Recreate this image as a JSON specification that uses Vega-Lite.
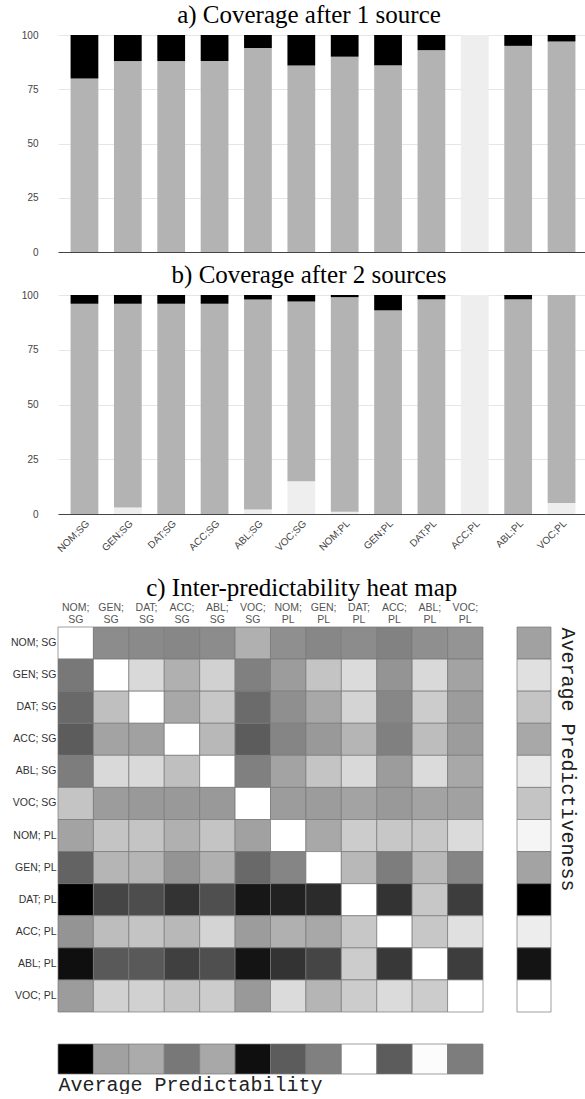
{
  "$schema": "https://vega.github.io/schema/vega-lite/v6.json",
  "background": "white",
  "padding": {"left": 10, "top": 3, "right": 0, "bottom": 0},
  "spacing": 6,
  "config": {
    "view": {"stroke": null},
    "axis": {"labelFont": "Liberation Sans", "labelColor": "#444", "labelFontSize": 10},
    "title": {"font": "Liberation Serif", "fontSize": 25, "fontWeight": "normal", "color": "#000"}
  },
  "resolve": {"scale": {"color": "independent", "x": "independent", "y": "independent"}},
  "datasets": {
    "coverage1": [
      {"case": "NOM;SG", "status": "covered", "pct": 80}, {"case": "NOM;SG", "status": "uncovered", "pct": 20},
      {"case": "GEN;SG", "status": "covered", "pct": 88}, {"case": "GEN;SG", "status": "uncovered", "pct": 12},
      {"case": "DAT;SG", "status": "covered", "pct": 88}, {"case": "DAT;SG", "status": "uncovered", "pct": 12},
      {"case": "ACC;SG", "status": "covered", "pct": 88}, {"case": "ACC;SG", "status": "uncovered", "pct": 12},
      {"case": "ABL;SG", "status": "covered", "pct": 94}, {"case": "ABL;SG", "status": "uncovered", "pct": 6},
      {"case": "VOC;SG", "status": "covered", "pct": 86}, {"case": "VOC;SG", "status": "uncovered", "pct": 14},
      {"case": "NOM;PL", "status": "covered", "pct": 90}, {"case": "NOM;PL", "status": "uncovered", "pct": 10},
      {"case": "GEN;PL", "status": "covered", "pct": 86}, {"case": "GEN;PL", "status": "uncovered", "pct": 14},
      {"case": "DAT;PL", "status": "covered", "pct": 93}, {"case": "DAT;PL", "status": "uncovered", "pct": 7},
      {"case": "ACC;PL", "status": "absent", "pct": 100},
      {"case": "ABL;PL", "status": "covered", "pct": 95}, {"case": "ABL;PL", "status": "uncovered", "pct": 5},
      {"case": "VOC;PL", "status": "covered", "pct": 97}, {"case": "VOC;PL", "status": "uncovered", "pct": 3}
    ],
    "coverage2": [
      {"case": "NOM;SG", "status": "covered", "pct": 96}, {"case": "NOM;SG", "status": "uncovered", "pct": 4},
      {"case": "GEN;SG", "status": "absent", "pct": 3}, {"case": "GEN;SG", "status": "covered", "pct": 93}, {"case": "GEN;SG", "status": "uncovered", "pct": 4},
      {"case": "DAT;SG", "status": "covered", "pct": 96}, {"case": "DAT;SG", "status": "uncovered", "pct": 4},
      {"case": "ACC;SG", "status": "covered", "pct": 96}, {"case": "ACC;SG", "status": "uncovered", "pct": 4},
      {"case": "ABL;SG", "status": "absent", "pct": 2}, {"case": "ABL;SG", "status": "covered", "pct": 96}, {"case": "ABL;SG", "status": "uncovered", "pct": 2},
      {"case": "VOC;SG", "status": "absent", "pct": 15}, {"case": "VOC;SG", "status": "covered", "pct": 82}, {"case": "VOC;SG", "status": "uncovered", "pct": 3},
      {"case": "NOM;PL", "status": "absent", "pct": 1}, {"case": "NOM;PL", "status": "covered", "pct": 98}, {"case": "NOM;PL", "status": "uncovered", "pct": 1},
      {"case": "GEN;PL", "status": "covered", "pct": 93}, {"case": "GEN;PL", "status": "uncovered", "pct": 7},
      {"case": "DAT;PL", "status": "covered", "pct": 98}, {"case": "DAT;PL", "status": "uncovered", "pct": 2},
      {"case": "ACC;PL", "status": "absent", "pct": 100},
      {"case": "ABL;PL", "status": "covered", "pct": 98}, {"case": "ABL;PL", "status": "uncovered", "pct": 2},
      {"case": "VOC;PL", "status": "absent", "pct": 5}, {"case": "VOC;PL", "status": "covered", "pct": 95}
    ],
    "heat": [
      {"row": "NOM; SG", "col": "NOM; SG", "score": 0}, {"row": "NOM; SG", "col": "GEN; SG", "score": 0.45}, {"row": "NOM; SG", "col": "DAT; SG", "score": 0.46}, {"row": "NOM; SG", "col": "ACC; SG", "score": 0.47}, {"row": "NOM; SG", "col": "ABL; SG", "score": 0.45}, {"row": "NOM; SG", "col": "VOC; SG", "score": 0.31}, {"row": "NOM; SG", "col": "NOM; PL", "score": 0.44}, {"row": "NOM; SG", "col": "GEN; PL", "score": 0.47}, {"row": "NOM; SG", "col": "DAT; PL", "score": 0.45}, {"row": "NOM; SG", "col": "ACC; PL", "score": 0.49}, {"row": "NOM; SG", "col": "ABL; PL", "score": 0.44}, {"row": "NOM; SG", "col": "VOC; PL", "score": 0.42},
      {"row": "GEN; SG", "col": "NOM; SG", "score": 0.53}, {"row": "GEN; SG", "col": "GEN; SG", "score": 0}, {"row": "GEN; SG", "col": "DAT; SG", "score": 0.15}, {"row": "GEN; SG", "col": "ACC; SG", "score": 0.31}, {"row": "GEN; SG", "col": "ABL; SG", "score": 0.18}, {"row": "GEN; SG", "col": "VOC; SG", "score": 0.50}, {"row": "GEN; SG", "col": "NOM; PL", "score": 0.39}, {"row": "GEN; SG", "col": "GEN; PL", "score": 0.23}, {"row": "GEN; SG", "col": "DAT; PL", "score": 0.14}, {"row": "GEN; SG", "col": "ACC; PL", "score": 0.42}, {"row": "GEN; SG", "col": "ABL; PL", "score": 0.15}, {"row": "GEN; SG", "col": "VOC; PL", "score": 0.36},
      {"row": "DAT; SG", "col": "NOM; SG", "score": 0.59}, {"row": "DAT; SG", "col": "GEN; SG", "score": 0.25}, {"row": "DAT; SG", "col": "DAT; SG", "score": 0}, {"row": "DAT; SG", "col": "ACC; SG", "score": 0.34}, {"row": "DAT; SG", "col": "ABL; SG", "score": 0.22}, {"row": "DAT; SG", "col": "VOC; SG", "score": 0.58}, {"row": "DAT; SG", "col": "NOM; PL", "score": 0.44}, {"row": "DAT; SG", "col": "GEN; PL", "score": 0.34}, {"row": "DAT; SG", "col": "DAT; PL", "score": 0.17}, {"row": "DAT; SG", "col": "ACC; PL", "score": 0.47}, {"row": "DAT; SG", "col": "ABL; PL", "score": 0.20}, {"row": "DAT; SG", "col": "VOC; PL", "score": 0.39},
      {"row": "ACC; SG", "col": "NOM; SG", "score": 0.64}, {"row": "ACC; SG", "col": "GEN; SG", "score": 0.36}, {"row": "ACC; SG", "col": "DAT; SG", "score": 0.37}, {"row": "ACC; SG", "col": "ACC; SG", "score": 0}, {"row": "ACC; SG", "col": "ABL; SG", "score": 0.28}, {"row": "ACC; SG", "col": "VOC; SG", "score": 0.64}, {"row": "ACC; SG", "col": "NOM; PL", "score": 0.48}, {"row": "ACC; SG", "col": "GEN; PL", "score": 0.40}, {"row": "ACC; SG", "col": "DAT; PL", "score": 0.29}, {"row": "ACC; SG", "col": "ACC; PL", "score": 0.50}, {"row": "ACC; SG", "col": "ABL; PL", "score": 0.26}, {"row": "ACC; SG", "col": "VOC; PL", "score": 0.39},
      {"row": "ABL; SG", "col": "NOM; SG", "score": 0.51}, {"row": "ABL; SG", "col": "GEN; SG", "score": 0.15}, {"row": "ABL; SG", "col": "DAT; SG", "score": 0.15}, {"row": "ABL; SG", "col": "ACC; SG", "score": 0.25}, {"row": "ABL; SG", "col": "ABL; SG", "score": 0}, {"row": "ABL; SG", "col": "VOC; SG", "score": 0.50}, {"row": "ABL; SG", "col": "NOM; PL", "score": 0.36}, {"row": "ABL; SG", "col": "GEN; PL", "score": 0.23}, {"row": "ABL; SG", "col": "DAT; PL", "score": 0.15}, {"row": "ABL; SG", "col": "ACC; PL", "score": 0.39}, {"row": "ABL; SG", "col": "ABL; PL", "score": 0.14}, {"row": "ABL; SG", "col": "VOC; PL", "score": 0.34},
      {"row": "VOC; SG", "col": "NOM; SG", "score": 0.23}, {"row": "VOC; SG", "col": "GEN; SG", "score": 0.39}, {"row": "VOC; SG", "col": "DAT; SG", "score": 0.40}, {"row": "VOC; SG", "col": "ACC; SG", "score": 0.40}, {"row": "VOC; SG", "col": "ABL; SG", "score": 0.40}, {"row": "VOC; SG", "col": "VOC; SG", "score": 0}, {"row": "VOC; SG", "col": "NOM; PL", "score": 0.39}, {"row": "VOC; SG", "col": "GEN; PL", "score": 0.39}, {"row": "VOC; SG", "col": "DAT; PL", "score": 0.36}, {"row": "VOC; SG", "col": "ACC; PL", "score": 0.40}, {"row": "VOC; SG", "col": "ABL; PL", "score": 0.36}, {"row": "VOC; SG", "col": "VOC; PL", "score": 0.37},
      {"row": "NOM; PL", "col": "NOM; SG", "score": 0.36}, {"row": "NOM; PL", "col": "GEN; SG", "score": 0.23}, {"row": "NOM; PL", "col": "DAT; SG", "score": 0.23}, {"row": "NOM; PL", "col": "ACC; SG", "score": 0.31}, {"row": "NOM; PL", "col": "ABL; SG", "score": 0.23}, {"row": "NOM; PL", "col": "VOC; SG", "score": 0.37}, {"row": "NOM; PL", "col": "NOM; PL", "score": 0}, {"row": "NOM; PL", "col": "GEN; PL", "score": 0.34}, {"row": "NOM; PL", "col": "DAT; PL", "score": 0.20}, {"row": "NOM; PL", "col": "ACC; PL", "score": 0.22}, {"row": "NOM; PL", "col": "ABL; PL", "score": 0.22}, {"row": "NOM; PL", "col": "VOC; PL", "score": 0.14},
      {"row": "GEN; PL", "col": "NOM; SG", "score": 0.61}, {"row": "GEN; PL", "col": "GEN; SG", "score": 0.29}, {"row": "GEN; PL", "col": "DAT; SG", "score": 0.29}, {"row": "GEN; PL", "col": "ACC; SG", "score": 0.42}, {"row": "GEN; PL", "col": "ABL; SG", "score": 0.31}, {"row": "GEN; PL", "col": "VOC; SG", "score": 0.59}, {"row": "GEN; PL", "col": "NOM; PL", "score": 0.48}, {"row": "GEN; PL", "col": "GEN; PL", "score": 0}, {"row": "GEN; PL", "col": "DAT; PL", "score": 0.28}, {"row": "GEN; PL", "col": "ACC; PL", "score": 0.51}, {"row": "GEN; PL", "col": "ABL; PL", "score": 0.28}, {"row": "GEN; PL", "col": "VOC; PL", "score": 0.48},
      {"row": "DAT; PL", "col": "NOM; SG", "score": 1.0}, {"row": "DAT; PL", "col": "GEN; SG", "score": 0.73}, {"row": "DAT; PL", "col": "DAT; SG", "score": 0.70}, {"row": "DAT; PL", "col": "ACC; SG", "score": 0.80}, {"row": "DAT; PL", "col": "ABL; SG", "score": 0.69}, {"row": "DAT; PL", "col": "VOC; SG", "score": 0.91}, {"row": "DAT; PL", "col": "NOM; PL", "score": 0.87}, {"row": "DAT; PL", "col": "GEN; PL", "score": 0.83}, {"row": "DAT; PL", "col": "DAT; PL", "score": 0}, {"row": "DAT; PL", "col": "ACC; PL", "score": 0.80}, {"row": "DAT; PL", "col": "ABL; PL", "score": 0.22}, {"row": "DAT; PL", "col": "VOC; PL", "score": 0.76},
      {"row": "ACC; PL", "col": "NOM; SG", "score": 0.42}, {"row": "ACC; PL", "col": "GEN; SG", "score": 0.26}, {"row": "ACC; PL", "col": "DAT; SG", "score": 0.23}, {"row": "ACC; PL", "col": "ACC; SG", "score": 0.28}, {"row": "ACC; PL", "col": "ABL; SG", "score": 0.17}, {"row": "ACC; PL", "col": "VOC; SG", "score": 0.39}, {"row": "ACC; PL", "col": "NOM; PL", "score": 0.31}, {"row": "ACC; PL", "col": "GEN; PL", "score": 0.34}, {"row": "ACC; PL", "col": "DAT; PL", "score": 0.22}, {"row": "ACC; PL", "col": "ACC; PL", "score": 0}, {"row": "ACC; PL", "col": "ABL; PL", "score": 0.22}, {"row": "ACC; PL", "col": "VOC; PL", "score": 0.12},
      {"row": "ABL; PL", "col": "NOM; SG", "score": 0.94}, {"row": "ABL; PL", "col": "GEN; SG", "score": 0.65}, {"row": "ABL; PL", "col": "DAT; SG", "score": 0.65}, {"row": "ABL; PL", "col": "ACC; SG", "score": 0.75}, {"row": "ABL; PL", "col": "ABL; SG", "score": 0.69}, {"row": "ABL; PL", "col": "VOC; SG", "score": 0.92}, {"row": "ABL; PL", "col": "NOM; PL", "score": 0.80}, {"row": "ABL; PL", "col": "GEN; PL", "score": 0.73}, {"row": "ABL; PL", "col": "DAT; PL", "score": 0.20}, {"row": "ABL; PL", "col": "ACC; PL", "score": 0.78}, {"row": "ABL; PL", "col": "ABL; PL", "score": 0}, {"row": "ABL; PL", "col": "VOC; PL", "score": 0.76},
      {"row": "VOC; PL", "col": "NOM; SG", "score": 0.39}, {"row": "VOC; PL", "col": "GEN; SG", "score": 0.18}, {"row": "VOC; PL", "col": "DAT; SG", "score": 0.18}, {"row": "VOC; PL", "col": "ACC; SG", "score": 0.23}, {"row": "VOC; PL", "col": "ABL; SG", "score": 0.20}, {"row": "VOC; PL", "col": "VOC; SG", "score": 0.40}, {"row": "VOC; PL", "col": "NOM; PL", "score": 0.14}, {"row": "VOC; PL", "col": "GEN; PL", "score": 0.29}, {"row": "VOC; PL", "col": "DAT; PL", "score": 0.20}, {"row": "VOC; PL", "col": "ACC; PL", "score": 0.14}, {"row": "VOC; PL", "col": "ABL; PL", "score": 0.20}, {"row": "VOC; PL", "col": "VOC; PL", "score": 0}
    ],
    "rowAvg": [
      {"case": "NOM; SG", "score": 0.37}, {"case": "GEN; SG", "score": 0.12}, {"case": "DAT; SG", "score": 0.23}, {"case": "ACC; SG", "score": 0.34},
      {"case": "ABL; SG", "score": 0.09}, {"case": "VOC; SG", "score": 0.23}, {"case": "NOM; PL", "score": 0.04}, {"case": "GEN; PL", "score": 0.36},
      {"case": "DAT; PL", "score": 1.0}, {"case": "ACC; PL", "score": 0.07}, {"case": "ABL; PL", "score": 0.92}, {"case": "VOC; PL", "score": 0}
    ],
    "colAvg": [
      {"case": "NOM; SG", "score": 1.0}, {"case": "GEN; SG", "score": 0.37}, {"case": "DAT; SG", "score": 0.33}, {"case": "ACC; SG", "score": 0.53},
      {"case": "ABL; SG", "score": 0.34}, {"case": "VOC; SG", "score": 0.94}, {"case": "NOM; PL", "score": 0.64}, {"case": "GEN; PL", "score": 0.50},
      {"case": "DAT; PL", "score": 0}, {"case": "ACC; PL", "score": 0.64}, {"case": "ABL; PL", "score": 0.01}, {"case": "VOC; PL", "score": 0.51}
    ]
  },
  "vconcat": [
    {
      "title": {"text": "a) Coverage after 1 source", "offset": 2, "dx": -14},
      "data": {"name": "coverage1"},
      "width": 530,
      "height": 217,
      "mark": {"type": "bar"},
      "encoding": {
        "x": {"field": "case", "type": "nominal",
              "sort": ["NOM;SG", "GEN;SG", "DAT;SG", "ACC;SG", "ABL;SG", "VOC;SG", "NOM;PL", "GEN;PL", "DAT;PL", "ACC;PL", "ABL;PL", "VOC;PL"],
              "scale": {"paddingInner": 0.36, "paddingOuter": 0.29},
              "axis": {"labels": false, "ticks": false, "title": null, "domainColor": "#444"}},
        "y": {"field": "pct", "type": "quantitative", "stack": "zero",
              "scale": {"domain": [0, 100]},
              "axis": {"values": [0, 25, 50, 75, 100], "title": null, "ticks": false, "domain": false,
                       "gridColor": "#e6e6e6", "labelPadding": 20, "minExtent": 37, "maxExtent": 37}},
        "color": {"field": "status", "type": "nominal",
                  "scale": {"domain": ["absent", "covered", "uncovered"], "range": ["#eeeeee", "#b3b3b3", "#000000"]},
                  "legend": null},
        "order": {"field": "status", "sort": "ascending"}
      }
    },
    {
      "title": {"text": "b) Coverage after 2 sources", "offset": 2, "dx": -14},
      "data": {"name": "coverage2"},
      "width": 530,
      "height": 219,
      "mark": {"type": "bar"},
      "encoding": {
        "x": {"field": "case", "type": "nominal",
              "sort": ["NOM;SG", "GEN;SG", "DAT;SG", "ACC;SG", "ABL;SG", "VOC;SG", "NOM;PL", "GEN;PL", "DAT;PL", "ACC;PL", "ABL;PL", "VOC;PL"],
              "scale": {"paddingInner": 0.36, "paddingOuter": 0.29},
              "axis": {"labelAngle": -45, "ticks": false, "title": null, "domainColor": "#444", "labelPadding": 4,
                       "minExtent": 56, "maxExtent": 56}},
        "y": {"field": "pct", "type": "quantitative", "stack": "zero",
              "scale": {"domain": [0, 100]},
              "axis": {"values": [0, 25, 50, 75, 100], "title": null, "ticks": false, "domain": false,
                       "gridColor": "#e6e6e6", "labelPadding": 20, "minExtent": 37, "maxExtent": 37}},
        "color": {"field": "status", "type": "nominal",
                  "scale": {"domain": ["absent", "covered", "uncovered"], "range": ["#eeeeee", "#b3b3b3", "#000000"]},
                  "legend": null},
        "order": {"field": "status", "sort": "ascending"}
      }
    },
    {
      "title": {"text": "c) Inter-predictability heat map", "offset": 1, "anchor": "middle", "dx": 8},
      "spacing": 30,
      "resolve": {"scale": {"color": "independent", "x": "independent", "y": "independent"}},
      "vconcat": [
        {
          "spacing": 32,
          "resolve": {"scale": {"color": "independent", "x": "independent", "y": "independent"}},
          "hconcat": [
            {
              "data": {"name": "heat"},
              "width": 425,
              "height": 385,
              "mark": {"type": "rect", "stroke": "#777", "strokeOpacity": 0.7, "strokeWidth": 1},
              "encoding": {
                "x": {"field": "col", "type": "nominal",
                      "sort": ["NOM; SG", "GEN; SG", "DAT; SG", "ACC; SG", "ABL; SG", "VOC; SG", "NOM; PL", "GEN; PL", "DAT; PL", "ACC; PL", "ABL; PL", "VOC; PL"],
                      "scale": {"paddingInner": 0, "paddingOuter": 0},
                      "axis": {"orient": "top", "labelAngle": 0, "labelExpr": "split(datum.label, ' ')", "labelLineHeight": 12,
                               "labelColor": "#555", "labelFontSize": 10.5, "ticks": false, "domain": false, "title": null, "labelPadding": 15}},
                "y": {"field": "row", "type": "nominal",
                      "sort": ["NOM; SG", "GEN; SG", "DAT; SG", "ACC; SG", "ABL; SG", "VOC; SG", "NOM; PL", "GEN; PL", "DAT; PL", "ACC; PL", "ABL; PL", "VOC; PL"],
                      "scale": {"paddingInner": 0, "paddingOuter": 0},
                      "axis": {"ticks": false, "domain": false, "title": null, "labelPadding": 2, "labelColor": "#333",
                               "labelFontSize": 10.5, "minExtent": 47, "maxExtent": 47}},
                "color": {"field": "score", "type": "quantitative",
                          "scale": {"domain": [0, 1], "range": ["#ffffff", "#000000"], "interpolate": "rgb"},
                          "legend": null}
              }
            },
            {
              "data": {"name": "rowAvg"},
              "width": 34,
              "height": 385,
              "mark": {"type": "rect", "stroke": "#777", "strokeOpacity": 0.7, "strokeWidth": 1},
              "encoding": {
                "y": {"field": "case", "type": "nominal",
                      "sort": ["NOM; SG", "GEN; SG", "DAT; SG", "ACC; SG", "ABL; SG", "VOC; SG", "NOM; PL", "GEN; PL", "DAT; PL", "ACC; PL", "ABL; PL", "VOC; PL"],
                      "scale": {"paddingInner": 0, "paddingOuter": 0},
                      "axis": {"orient": "right", "labels": false, "ticks": false, "domain": false,
                               "title": "Average Predictiveness", "titleAngle": 90, "titleAnchor": "start",
                               "titleFont": "Liberation Mono", "titleFontSize": 20, "titleFontWeight": "normal",
                               "titleColor": "#222", "titlePadding": 6}},
                "color": {"field": "score", "type": "quantitative",
                          "scale": {"domain": [0, 1], "range": ["#ffffff", "#000000"], "interpolate": "rgb"},
                          "legend": null}
              }
            }
          ]
        },
        {
          "data": {"name": "colAvg"},
          "width": 425,
          "height": 30,
          "mark": {"type": "rect", "stroke": "#777", "strokeOpacity": 0.7, "strokeWidth": 1},
          "encoding": {
            "x": {"field": "case", "type": "nominal",
                  "sort": ["NOM; SG", "GEN; SG", "DAT; SG", "ACC; SG", "ABL; SG", "VOC; SG", "NOM; PL", "GEN; PL", "DAT; PL", "ACC; PL", "ABL; PL", "VOC; PL"],
                  "scale": {"paddingInner": 0, "paddingOuter": 0},
                  "axis": {"labels": false, "ticks": false, "domain": false,
                           "title": "Average Predictability", "titleAnchor": "start", "titleAlign": "left",
                           "titleFont": "Liberation Mono", "titleFontSize": 20, "titleFontWeight": "normal",
                           "titleColor": "#222", "titlePadding": 0}},
            "y": {"datum": "average", "type": "nominal",
                  "axis": {"labels": false, "ticks": false, "domain": false, "title": null, "minExtent": 47, "maxExtent": 47}},
            "color": {"field": "score", "type": "quantitative",
                      "scale": {"domain": [0, 1], "range": ["#ffffff", "#000000"], "interpolate": "rgb"},
                      "legend": null}
          }
        }
      ]
    }
  ]
}
